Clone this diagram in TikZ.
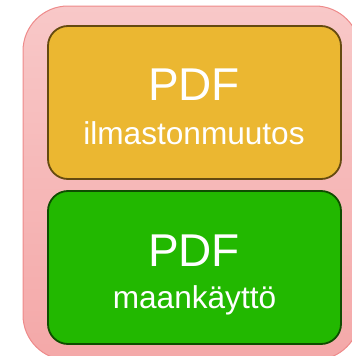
\documentclass[tikz,border=0pt]{standalone}
\usepackage{fontspec}
\setmainfont{Liberation Sans}
\definecolor{pinkTop}{HTML}{F8C8C8}
\definecolor{pinkBot}{HTML}{F4A8A8}
\definecolor{pinkLine}{HTML}{EE8A8A}
\definecolor{yelFill}{HTML}{EBB731}
\definecolor{yelLine}{HTML}{654A10}
\definecolor{grnFill}{HTML}{22B800}
\definecolor{grnLine}{HTML}{0E4D00}
\tikzset{
  box/.style={rectangle, rounded corners=20pt, line width=1.8pt, inner sep=0pt},
  bigtxt/.style={anchor=base, text=white, font=\fontsize{46}{46}\selectfont, inner sep=0pt},
  smalltxt/.style={anchor=base, text=white, font=\fontsize{31.6}{32}\selectfont, inner sep=0pt},
}
\begin{document}
\begin{tikzpicture}[x=1pt,y=-1pt]
\useasboundingbox (0,0) rectangle (352,356);
\clip (0,0) rectangle (352,356);
\path[top color=pinkTop, bottom color=pinkBot, draw=pinkLine, line width=1pt, rounded corners=45pt]
  (23,6) rectangle (360,360);
\node[box, draw=yelLine, fill=yelFill, minimum width=293pt, minimum height=153pt] (yel) at (194.5,102.5) {};
\node[box, draw=grnLine, fill=grnFill, minimum width=293pt, minimum height=153pt] (grn) at (194.5,267.5) {};
\node[bigtxt] (t1) at (194,100) {PDF};
\node[smalltxt] (s1) at (194,144) {ilmastonmuutos};
\node[bigtxt] (t2) at (194,266) {PDF};
\node[smalltxt] (s2) at (194.5,308) {maankäyttö};
\end{tikzpicture}
\end{document}
